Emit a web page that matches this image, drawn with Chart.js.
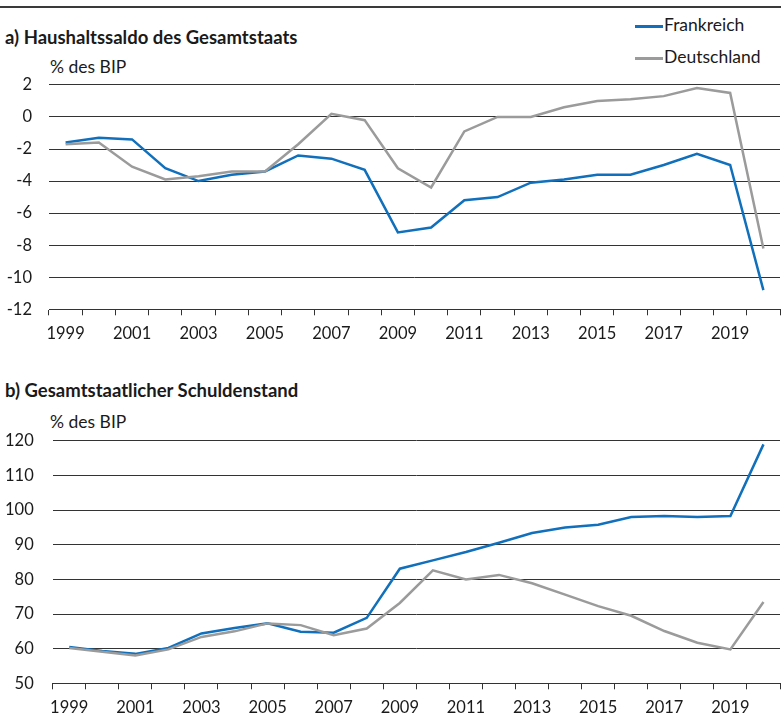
<!DOCTYPE html>
<html lang="de">
<head>
    <meta charset="UTF-8">
    <title>Frankreich und Deutschland: Haushaltssaldo und Schuldenstand</title>
    <script src="https://cdn.jsdelivr.net/npm/chart.js"></script>
    <style>
        body { margin: 0; width: 781px; height: 715px; overflow: hidden; background: #fff;
               font-family: Lato, "Noto Sans", sans-serif; color: #1a1a1a; position: relative; }
        .topline { position: absolute; left: 0; top: 6px; width: 781px; height: 2px; background: #3a3a3a; }
        .title { position: absolute; left: 5px; font-weight: bold; font-size: 18.5px; }
        .unit { position: absolute; left: 50px; font-size: 17.5px; }
        .legend { position: absolute; left: 635px; font-size: 17.5px; }
        .legend span { display: inline-block; width: 28px; height: 2.5px; vertical-align: middle; margin-right: 1px; }
        canvas { position: absolute; left: 0; }
    </style>
</head>
<body>
    <div class="topline"></div>
    <div class="title" style="top:26px">a) Haushaltssaldo des Gesamtstaats</div>
    <div class="unit" style="top:56px">% des BIP</div>
    <div class="legend" style="top:14px"><span style="background:#1170bb"></span>Frankreich</div>
    <div class="legend" style="top:46px"><span style="background:#9b9b9b"></span>Deutschland</div>
    <div class="title" style="top:379px">b) Gesamtstaatlicher Schuldenstand</div>
    <div class="unit" style="top:411px">% des BIP</div>

    <div style="position:absolute;left:0;top:58px;width:781px;height:292px"><canvas id="saldoChart"></canvas></div>
    <div style="position:absolute;left:0;top:412px;width:781px;height:313px"><canvas id="schuldenChart"></canvas></div>

    <script>
        // Jahre 1999 - 2020
        const years = ['1999','2000','2001','2002','2003','2004','2005','2006','2007','2008','2009',
                       '2010','2011','2012','2013','2014','2015','2016','2017','2018','2019','2020'];

        // a) Haushaltssaldo, % des BIP
        const saldoFrankreich = [-1.6, -1.3, -1.4, -3.2, -4.0, -3.6, -3.4, -2.4, -2.6, -3.3, -7.2,
                                 -6.9, -5.2, -5.0, -4.1, -3.9, -3.6, -3.6, -3.0, -2.3, -3.0, -10.8];
        const saldoDeutschland = [-1.7, -1.6, -3.1, -3.9, -3.7, -3.4, -3.4, -1.7, 0.2, -0.2, -3.2,
                                  -4.4, -0.9, 0.0, 0.0, 0.6, 1.0, 1.1, 1.3, 1.8, 1.5, -8.2];

        // b) Schuldenstand, % des BIP
        const schuldenFrankreich = [60.5, 59.3, 58.5, 60.2, 64.4, 66.0, 67.3, 64.9, 64.6, 68.9, 83.1,
                                    85.5, 87.9, 90.6, 93.4, 95.0, 95.8, 98.0, 98.3, 98.0, 98.3, 119.0];
        const schuldenDeutschland = [60.2, 59.1, 58.0, 59.8, 63.4, 65.0, 67.3, 66.8, 63.9, 65.8, 73.2,
                                     82.6, 80.0, 81.3, 78.9, 75.6, 72.3, 69.5, 65.1, 61.7, 59.8, 73.5];

        const blau = '#1170bb';
        const grau = '#9b9b9b';
        const linie = '#333333';

        function createLineChart(id, fr, de, min, max, step, yWidth, xHeight, padTop, padLabel) {
            return new Chart(document.getElementById(id), {
                type: 'line',
                data: {
                    labels: years,
                    datasets: [
                        { label: 'Deutschland', data: de, borderColor: grau, borderWidth: 2.5, pointRadius: 0, tension: 0 },
                        { label: 'Frankreich', data: fr, borderColor: blau, borderWidth: 2.5, pointRadius: 0, tension: 0 }
                    ]
                },
                options: {
                    responsive: true,
                    maintainAspectRatio: false,
                    animation: false,
                    layout: { padding: { top: padTop, right: 1, left: 0, bottom: 0 } },
                    plugins: { legend: { display: false }, tooltip: { enabled: false } },
                    scales: {
                        x: {
                            offset: true,
                            grid: { offset: true, drawOnChartArea: false, drawTicks: true, tickLength: 6, tickColor: linie, lineWidth: 1 },
                            border: { display: true, color: linie, width: 1 },
                            ticks: {
                                autoSkip: false, maxRotation: 0, padding: 8, color: '#1a1a1a',
                                font: { family: 'Lato', size: 16.5 },
                                callback: function (v, i) { return i % 2 === 0 ? this.getLabelForValue(v) : ''; }
                            },
                            afterFit: function (s) { s.height = xHeight; }
                        },
                        y: {
                            min: min, max: max,
                            grid: { color: linie, lineWidth: 1, drawTicks: false },
                            border: { display: false },
                            ticks: { stepSize: step, padding: padLabel, color: '#1a1a1a', font: { family: 'Lato', size: 16.5 } },
                            afterFit: function (s) { s.width = yWidth; }
                        }
                    }
                }
            });
        }

        createLineChart('saldoChart', saldoFrankreich, saldoDeutschland, -12, 2, 2, 49, 40.7, 14.3, 17);
        createLineChart('schuldenChart', schuldenFrankreich, schuldenDeutschland, 50, 120, 10, 52.7, 41.7, 15, 19);
    </script>
</body>
</html>
